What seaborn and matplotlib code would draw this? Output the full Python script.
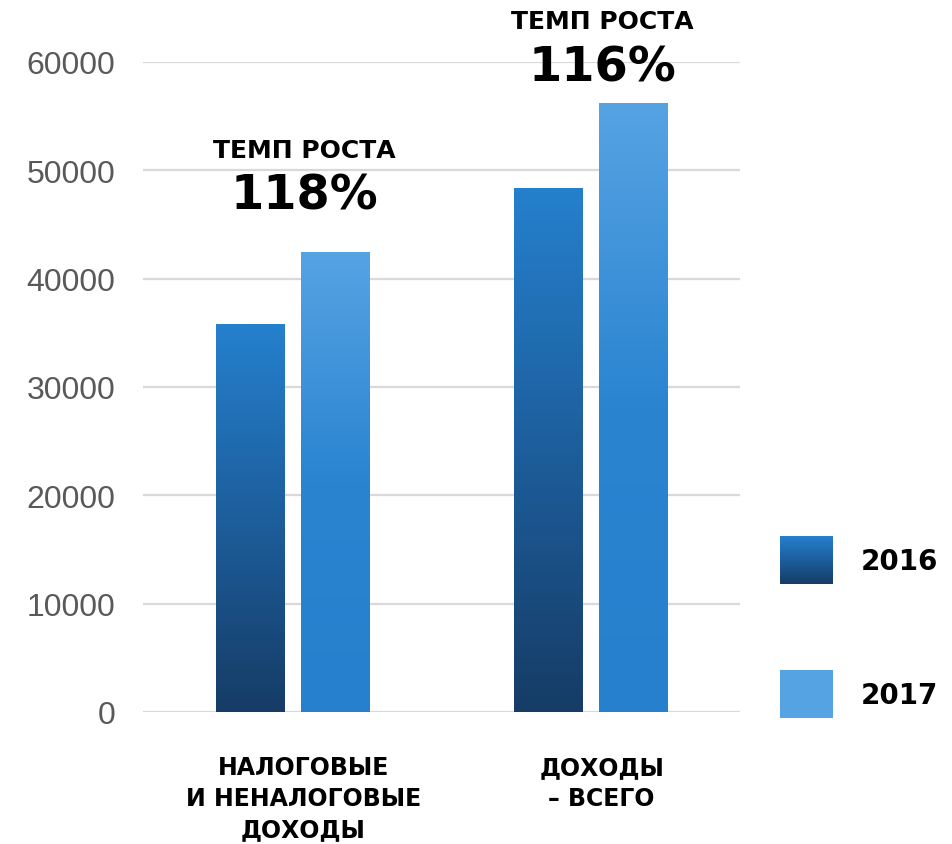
import numpy as np
import pandas as pd
import matplotlib
matplotlib.use('Agg')
import matplotlib.pyplot as plt
import seaborn as sns
from matplotlib.colors import LinearSegmentedColormap
from matplotlib.legend_handler import HandlerBase
from matplotlib.image import BboxImage
from matplotlib.transforms import Bbox, TransformedBbox, ScaledTranslation
from matplotlib.patches import Rectangle

# data
categories = ['НАЛОГОВЫЕ\nИ НЕНАЛОГОВЫЕ\nДОХОДЫ', 'ДОХОДЫ\n– ВСЕГО']
years = ['2016', '2017']
values_2016 = [35800, 48400]
values_2017 = [42450, 56200]
growth_labels = ['118%', '116%']

df = pd.DataFrame({
    'cat': categories * 2,
    'year': [years[0]] * 2 + [years[1]] * 2,
    'value': values_2016 + values_2017,
})

# gradients (bottom -> top)
cmap_2016 = LinearSegmentedColormap.from_list('g16', ['#163c66', '#1d5e9c', '#2580cd'])
cmap_2017 = LinearSegmentedColormap.from_list('g17', ['#2680cd', '#2a84d0', '#56a3e3'])
cmaps = {'2016': cmap_2016, '2017': cmap_2017}
grad = np.linspace(0, 1, 256).reshape(-1, 1)

sns.set_style('white')
plt.rcParams['font.family'] = ['DejaVu Sans']
plt.rcParams['text.color'] = 'black'

fig = plt.figure(figsize=(9.53, 8.45), dpi=100)
ax = fig.add_axes([143 / 953, 1 - 713 / 845, 597 / 953, 650 / 845])

sns.barplot(data=df, x='cat', y='value', hue='year', ax=ax,
            palette=['#2580cd', '#56a3e3'], width=0.57, gap=0.2,
            legend=False, zorder=2)

# paint each bar with its own vertical gradient
for cont, yr in zip(ax.containers, years):
    for bar in cont:
        x0, y0 = bar.get_x(), bar.get_y()
        w, h = bar.get_width(), bar.get_height()
        im = ax.imshow(grad, cmap=cmaps[yr], origin='lower', aspect='auto',
                       extent=[x0, x0 + w, y0, y0 + h], zorder=3)
        im.set_clip_path(bar)
        bar.set_facecolor('none')
        bar.set_edgecolor('none')
ax.set_xlim(-0.5, 1.5)
ax.set_ylim(0, 60000)

ax.set_yticks(np.arange(0, 60001, 10000))
ax.yaxis.grid(True, color='#d9d9d9', linewidth=1.6, zorder=0)
ax.set_axisbelow(True)
ax.tick_params(axis='y', labelsize=23, labelcolor='#595959', length=0, pad=20)
ax.tick_params(axis='x', length=0, pad=31, labelcolor='black')
for lbl in ax.get_yticklabels():
    lbl.set_family(['Liberation Sans', 'DejaVu Sans'])
shift = ScaledTranslation(11 / 100, 0, fig.dpi_scale_trans)
for lbl in ax.get_xticklabels():
    lbl.set_fontsize(17)
    lbl.set_fontweight('bold')
    lbl.set_linespacing(1.38)
    lbl.set_transform(lbl.get_transform() + shift)
ax.set_xlabel('')
ax.set_ylabel('')
sns.despine(ax=ax, left=True, bottom=True)

# growth rate annotations
title_y = [51900, 63750]
pct_y = [47700, 59500]
for i, pct in enumerate(growth_labels):
    ax.text(i + 0.04, title_y[i], 'ТЕМП РОСТА', ha='center', va='center',
            fontsize=18, fontweight='bold', color='black', clip_on=False)
    ax.text(i + 0.04, pct_y[i], pct, ha='center', va='center',
            fontsize=34.5, fontweight='bold', color='black', clip_on=False)


# legend with gradient swatch
class GradHandler(HandlerBase):
    def create_artists(self, legend, orig_handle, xdescent, ydescent,
                       width, height, fontsize, trans):
        bb = TransformedBbox(Bbox.from_bounds(-xdescent, -ydescent, width, height), trans)
        img = BboxImage(bb, cmap=orig_handle.get_gid(), origin='lower')
        img.set_data(grad)
        return [img]


h16 = Rectangle((0, 0), 1, 1)
h16.set_gid(cmap_2016)
h17 = Rectangle((0, 0), 1, 1, facecolor='#56a3e3', edgecolor='none')
leg = fig.legend([h16, h17], years, loc='upper left',
                 bbox_to_anchor=(780 / 953, 1 - 537 / 845),
                 frameon=False, borderpad=0, borderaxespad=0,
                 prop={'weight': 'bold', 'size': 20},
                 handlelength=1.9, handleheight=2.28, handletextpad=1.0,
                 labelspacing=3.1, labelcolor='black',
                 handler_map={h16: GradHandler()})

fig.savefig('out.png', dpi=100)
